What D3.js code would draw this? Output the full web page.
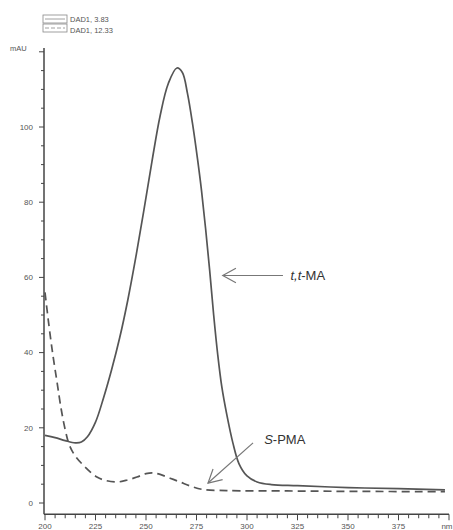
<!DOCTYPE html>
<html>
<head>
<meta charset="utf-8">
<script src="https://cdn.jsdelivr.net/npm/d3@7"></script>
<style>
  body { margin: 0; background: #fff; }
  svg { display: block; font-family: "Liberation Sans", Arial, sans-serif; }
</style>
</head>
<body>
<div id="chart"></div>
<script>
// spectra (wavelength nm -> mAU)
const ttmaNm = [200, 205, 210, 215, 218, 221, 225, 229, 233, 237, 241, 245, 249, 253, 257, 261, 265.3, 268, 270.5, 273, 275.5, 277.5, 279.5, 281.5, 283.5, 285.5, 287.5, 290, 293, 296, 300, 305, 312, 325, 350, 375, 398];
const ttmaAU = [18, 17.4, 16.6, 16.0, 16.2, 17.6, 21.5, 28, 35.5, 44, 54, 65.5, 78, 91, 103, 111.5, 115.7, 114.5, 109, 101, 91.5, 83, 73, 62, 50, 39.5, 31, 23.5, 16, 10.5, 7.2, 5.6, 4.9, 4.6, 4.1, 3.8, 3.5];

const spmaNm = [200, 202, 204, 206, 208, 210, 212, 215, 220, 225.7, 230, 235.6, 240, 245.5, 250, 253.5, 257, 261.9, 266.8, 272, 278, 290, 320, 350, 398];
const spmaAU = [56, 47, 39, 32, 25, 19.5, 15.5, 12.5, 9.5, 6.9, 6.0, 5.6, 6.0, 6.9, 7.8, 8.0, 7.6, 6.6, 5.6, 4.5, 3.6, 3.3, 3.2, 3.1, 3.0];

const legendNames = ["DAD1, 3.83", "DAD1, 12.33"];
const xTickLabels = [200, 225, 250, 275, 300, 325, 350, 375];
const yTickLabels = [0, 20, 40, 60, 80, 100];

const width = 453, height = 530;
const axisColor = "#444", lineColor = "#555", textColor = "#555";

const svg = d3.select("#chart").append("svg")
  .attr("width", width)
  .attr("height", height);

// scales
var x = d3.scaleLinear().domain([200, 400]).range([45, 449]);
var y = d3.scaleLinear().domain([0, 100]).range([503, 127]);
const yBottom = y(-3), yTop = y(121);

// y axis with minor ticks every 5
svg.append("line")
  .attr("x1", x(200) - 1).attr("x2", x(200) - 1)
  .attr("y1", yTop).attr("y2", yBottom)
  .attr("stroke", axisColor).attr("stroke-width", 1.5);

svg.selectAll("line.ytick")
  .data(d3.range(0, 121, 5))
  .enter().append("line")
  .attr("class", "ytick")
  .attr("x1", d => x(200) - (d % 20 === 0 ? 6 : 4))
  .attr("x2", x(200) - 1)
  .attr("y1", d => y(d)).attr("y2", d => y(d))
  .attr("stroke", axisColor).attr("stroke-width", 1);

svg.selectAll("text.ylab")
  .data(yTickLabels)
  .enter().append("text")
  .attr("class", "ylab")
  .attr("x", 33)
  .attr("y", d => y(d))
  .attr("dy", "0.35em")
  .attr("text-anchor", "end")
  .attr("font-size", 8)
  .attr("fill", textColor)
  .text(d => d);

svg.append("text")
  .attr("x", 10).attr("y", 51)
  .attr("font-size", 7.5)
  .attr("fill", textColor)
  .text("mAU");

// x axis with minor ticks every 5 nm
svg.append("line")
  .attr("x1", x(200) - 1).attr("x2", x(400))
  .attr("y1", yBottom).attr("y2", yBottom)
  .attr("stroke", axisColor).attr("stroke-width", 1.5);

svg.selectAll("line.xtick")
  .data(d3.range(200, 401, 5))
  .enter().append("line")
  .attr("class", "xtick")
  .attr("x1", d => x(d)).attr("x2", d => x(d))
  .attr("y1", yBottom)
  .attr("y2", d => yBottom + (d % 25 === 0 ? 6 : 4))
  .attr("stroke", axisColor).attr("stroke-width", 1);

svg.selectAll("text.xlab")
  .data(xTickLabels)
  .enter().append("text")
  .attr("class", "xlab")
  .attr("x", d => x(d))
  .attr("y", 529)
  .attr("text-anchor", "middle")
  .attr("font-size", 8)
  .attr("fill", textColor)
  .text(d => d);

svg.append("text")
  .attr("x", x(399)).attr("y", 529)
  .attr("text-anchor", "middle")
  .attr("font-size", 8)
  .attr("fill", textColor)
  .text("nm");

// spectra
var line = d3.line()
  .x(d => x(d[0]))
  .y(d => y(d[1]))
  .curve(d3.curveCatmullRom.alpha(0.5));

svg.append("path")
  .datum(d3.zip(spmaNm, spmaAU))
  .attr("d", line)
  .attr("fill", "none")
  .attr("stroke", lineColor)
  .attr("stroke-width", 1.7)
  .attr("stroke-dasharray", "8,5");

svg.append("path")
  .datum(d3.zip(ttmaNm, ttmaAU))
  .attr("d", line)
  .attr("fill", "none")
  .attr("stroke", lineColor)
  .attr("stroke-width", 1.7);

// legend
const legend = svg.append("g").attr("transform", "translate(43,15)");
legendNames.forEach((name, i) => {
  const g = legend.append("g").attr("transform", `translate(0,${i * 9})`);
  g.append("rect")
    .attr("width", 24).attr("height", 8)
    .attr("fill", "none").attr("stroke", "#888").attr("stroke-width", 0.8);
  g.append("line")
    .attr("x1", 2).attr("x2", 22).attr("y1", 4).attr("y2", 4)
    .attr("stroke", "#888").attr("stroke-width", 0.8)
    .attr("stroke-dasharray", i === 1 ? "4,2" : null);
  g.append("text")
    .attr("x", 27).attr("y", 4 + i * 2)
    .attr("dy", "0.35em")
    .attr("font-size", 7.5)
    .attr("fill", textColor)
    .text(name);
});

// annotation arrows (open heads)
function arrow(tx, ty, fx, fy) {
  const a = Math.atan2(fy - ty, fx - tx), len = 15, spread = 0.5;
  svg.append("line")
    .attr("x1", fx).attr("y1", fy).attr("x2", tx).attr("y2", ty)
    .attr("stroke", "#777").attr("stroke-width", 1.2);
  svg.append("path")
    .attr("d", `M${tx + len * Math.cos(a + spread)},${ty + len * Math.sin(a + spread)}L${tx},${ty}L${tx + len * Math.cos(a - spread)},${ty + len * Math.sin(a - spread)}`)
    .attr("fill", "none")
    .attr("stroke", "#777").attr("stroke-width", 1.2);
}

arrow(x(288), y(60.5), x(317.8), y(60.5));
arrow(x(280.7), y(5.3), x(303), y(16));

const t1 = svg.append("text")
  .attr("x", x(321.5)).attr("y", y(60.5))
  .attr("dy", "0.35em")
  .attr("font-size", 13)
  .attr("fill", "#333");
t1.append("tspan").attr("font-style", "italic").text("t,t");
t1.append("tspan").text("-MA");

const t2 = svg.append("text")
  .attr("x", x(308.5)).attr("y", y(17))
  .attr("dy", "0.35em")
  .attr("font-size", 13)
  .attr("fill", "#333");
t2.append("tspan").attr("font-style", "italic").text("S");
t2.append("tspan").text("-PMA");
</script>
</body>
</html>
